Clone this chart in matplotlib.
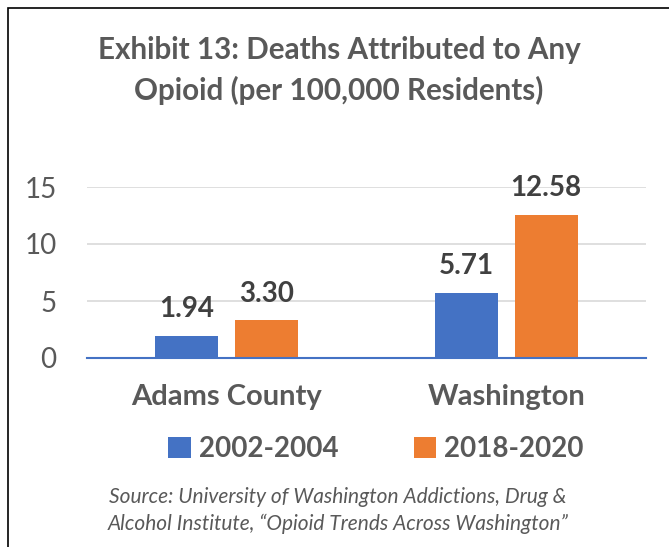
import matplotlib
matplotlib.use("Agg")
import matplotlib.pyplot as plt
from matplotlib.patches import Rectangle
import numpy as np

categories = ["Adams County", "Washington"]
series_names = ["2002-2004", "2018-2020"]
values_2002 = [1.94, 5.71]
values_2018 = [3.30, 12.58]
yticks = [0, 5, 10, 15]

blue = "#4472C4"
orange = "#ED7D31"
gray = "#595959"
dark = "#404040"

plt.rcParams['font.family'] = ['Lato', 'DejaVu Sans']

W, H = 669, 547
fig = plt.figure(figsize=(W/100, H/100), dpi=100)

# outer border
fig.patches.append(Rectangle((8/W, -0.1), 1.2, 1 - 8/H + 0.1, transform=fig.transFigure,
                             fill=False, edgecolor="#000000", linewidth=1.2))

ax = fig.add_axes([87/W, 1 - 358/H, (646-87)/W, (358-187)/H])
x = np.arange(len(categories))
bw = 0.225
off = 0.143
b1 = ax.bar(x - off, values_2002, bw, color=blue, label=series_names[0], zorder=3)
b2 = ax.bar(x + off, values_2018, bw, color=orange, label=series_names[1], zorder=3)

for bars, vals in ((b1, values_2002), (b2, values_2018)):
    for r, v in zip(bars, vals):
        ax.annotate(f"{v:.2f}", (r.get_x() + r.get_width()/2, v), xytext=(0, 13.5),
                    textcoords="offset points", ha="center", va="baseline",
                    fontsize=20, fontweight="bold", color=dark)

ax.set_xlim(-0.5, 1.5)
ax.set_ylim(0, 15)
ax.set_yticks(yticks)
ax.set_yticklabels([str(t) for t in yticks])
ax.yaxis.grid(True, color="#D9D9D9", linewidth=1.2, zorder=0)
ax.set_axisbelow(True)
for s in ["top", "right", "left"]:
    ax.spines[s].set_visible(False)
ax.spines["bottom"].set_color(blue)
ax.spines["bottom"].set_linewidth(1.5)
ax.spines["bottom"].set_zorder(4)
ax.tick_params(axis="y", length=0, labelsize=20, labelcolor=gray, pad=22)
ax.tick_params(axis="x", length=0, labelsize=21, labelcolor=gray, pad=19)
ax.set_xticks(x)
ax.set_xticklabels(categories, fontweight="bold")
ax.set_facecolor("none")

fig.text(339/W, 1 - 50/H, "Exhibit 13: Deaths Attributed to Any", ha="center", va="center",
         fontsize=21.3, fontweight="bold", color=gray)
fig.text(339/W, 1 - 90/H, "Opioid (per 100,000 Residents)", ha="center", va="center",
         fontsize=21.3, fontweight="bold", color=gray)

fig.legend(handles=[b1, b2], labels=series_names, loc="center", bbox_to_anchor=(376/W, 1 - 449/H),
           ncol=2, frameon=False, labelcolor=gray, prop={"weight": "bold", "size": 20},
           handlelength=0.8, handleheight=0.8, handletextpad=0.3, columnspacing=2.7)

fig.text(338/W, 1 - 497/H, "Source: University of Washington Addictions, Drug &",
         ha="center", va="center", fontsize=15, style="italic", color=gray)
fig.text(338/W, 1 - 524/H, "Alcohol Institute, \u201cOpioid Trends Across Washington\u201d",
         ha="center", va="center", fontsize=15, style="italic", color=gray)

fig.savefig("out.png", dpi=100)
